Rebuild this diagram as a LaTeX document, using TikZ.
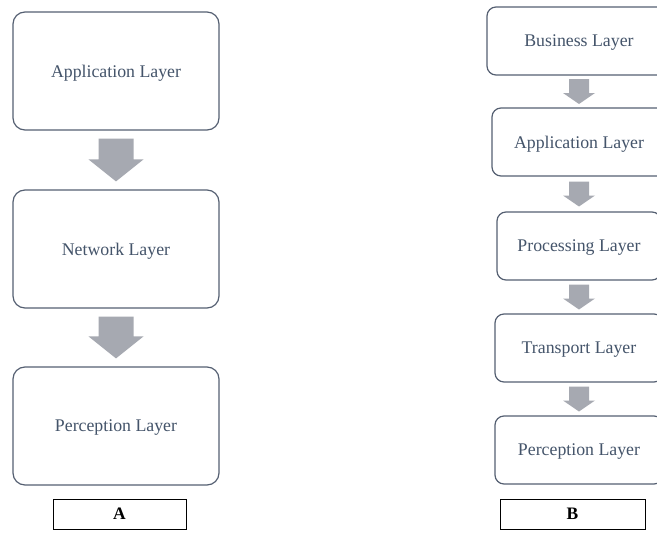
\documentclass[tikz,border=0pt]{standalone}
\usepackage{fontspec}
\setmainfont{Liberation Serif}
\usetikzlibrary{calc}
\definecolor{txtc}{HTML}{44546A}
\definecolor{edgec}{HTML}{556072}
\definecolor{arrc}{HTML}{A6A9B1}
\tikzset{
  layerbig/.style={draw=edgec, line width=1.2pt, rounded corners=12pt, inner sep=0pt, text depth=0pt,
    minimum width=206pt, minimum height=118pt, text=txtc, font=\fontsize{17.8}{20}\selectfont},
  layersmall/.style={draw=edgec, line width=1.2pt, rounded corners=9pt, inner sep=0pt, text depth=0pt,
    minimum height=68pt, text=txtc, font=\fontsize{17.8}{20}\selectfont},
  tagbox/.style={draw=black, line width=0.9pt, inner sep=0pt, minimum height=30pt, text depth=0pt,
    font=\fontsize{17.5}{20}\selectfont\bfseries},
  arrowfill/.style={fill=arrc, draw=none}
}
\newcommand\blkarrow[5]{%
  \fill[arrowfill] ($(#1)+(-#3,0)$) -- ($(#1)+(#3,0)$) -- ($(#2)+(#3,-#5)$) -- ($(#2)+(#4,-#5)$)
    -- (#2) -- ($(#2)+(-#4,-#5)$) -- ($(#2)+(-#3,-#5)$) -- cycle;}
\begin{document}
\begin{tikzpicture}[x=1pt,y=-1pt]
\useasboundingbox (0,0) rectangle (657,533);
\clip (0,0) rectangle (657,533);
\fill[white] (0,0) rectangle (657,533);
% Column A
\node[layerbig] (a1) at (116,71) {Application Layer};
\node[layerbig] (a2) at (116,249) {Network Layer};
\node[layerbig] (a3) at (116,426) {Perception Layer};
\coordinate (a1s) at ($(a1.south)+(0,8)$);
\coordinate (a2n) at ($(a2.north)+(0,-8)$);
\coordinate (a2s) at ($(a2.south)+(0,8)$);
\coordinate (a3n) at ($(a3.north)+(0,-8)$);
\blkarrow{a1s}{a2n}{17.5}{27.5}{22}
\blkarrow{a2s}{a3n}{17.5}{27.5}{22}
\node[tagbox, minimum width=133pt] (la) at (119.5,514) {A};
% Column B
\node[layersmall, minimum width=184pt] (b1) at (579,41) {Business Layer};
\node[layersmall, minimum width=174pt] (b2) at (579,142) {Application Layer};
\node[layersmall, minimum width=164pt] (b3) at (579,246) {Processing Layer};
\node[layersmall, minimum width=168pt] (b4) at (579,348) {Transport Layer};
\node[layersmall, minimum width=168pt] (b5) at (579,450) {Perception Layer};
\foreach \u/\v in {b1/b2,b2/b3,b3/b4,b4/b5}{
  \coordinate (\u s) at ($(\u.south)!0.5!(\v.north)+(0,-12.5)$);
  \coordinate (\v n) at ($(\u.south)!0.5!(\v.north)+(0,12.5)$);
  \blkarrow{\u s}{\v n}{10}{16}{11}
}
\node[tagbox, minimum width=145pt] (lb) at (572.5,514) {B};
\end{tikzpicture}
\end{document}
